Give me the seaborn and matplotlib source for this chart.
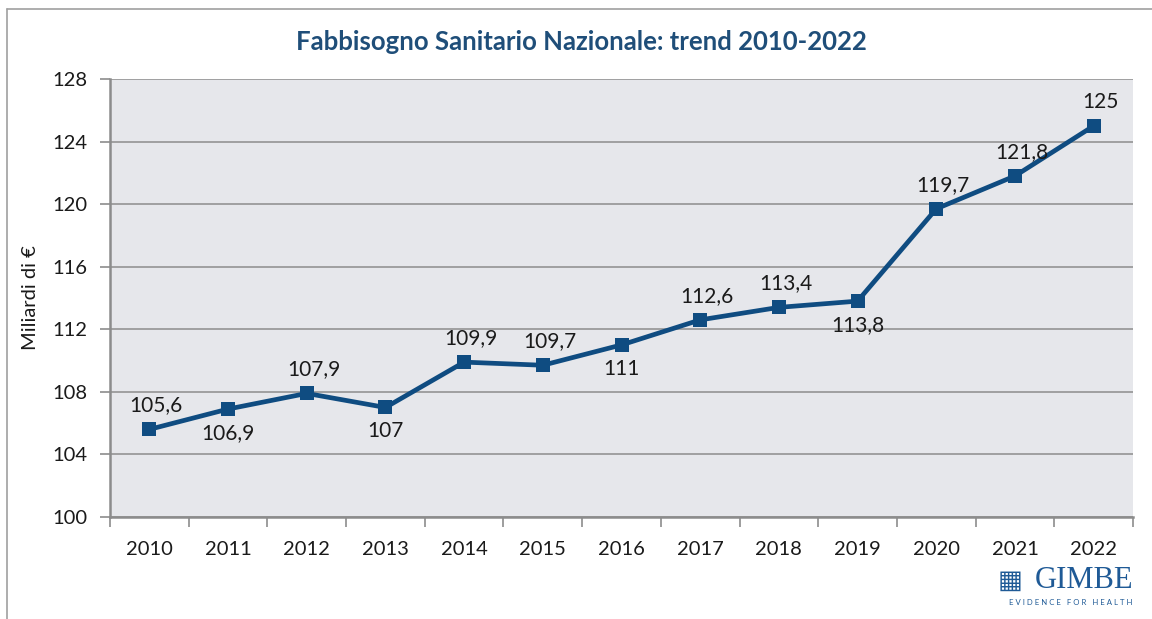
import pandas as pd
import matplotlib.pyplot as plt
import seaborn as sns
from matplotlib.ticker import FixedLocator

years = ['2010', '2011', '2012', '2013', '2014', '2015', '2016',
         '2017', '2018', '2019', '2020', '2021', '2022']
fsn = [105.6, 106.9, 107.9, 107.0, 109.9, 109.7, 111.0,
       112.6, 113.4, 113.8, 119.7, 121.8, 125.0]
labels = ['105,6', '106,9', '107,9', '107', '109,9', '109,7', '111',
          '112,6', '113,4', '113,8', '119,7', '121,8', '125']
# posizione etichetta: sopra (1) o sotto (-1) il punto
label_side = [1, -1, 1, -1, 1, 1, -1, 1, 1, -1, 1, 1, 1]
y_ticks = [100, 104, 108, 112, 116, 120, 124, 128]

df = pd.DataFrame({'Anno': years, 'FSN': fsn})

sns.set_theme(style='white')
plt.rcParams['font.family'] = ['Lato', 'DejaVu Sans']

blue = '#0f4c81'
grid_col = '#8c8c8c'
txt_col = '#1a1a1a'

fig = plt.figure(figsize=(11.52, 6.19), dpi=100)
ax = fig.add_axes([0.0955, 0.1648, 0.888, 0.7076])
ax.set_facecolor('#e6e7eb')

sns.lineplot(data=df, x='Anno', y='FSN', color=blue, linewidth=3.4,
             marker='s', markersize=10, markeredgewidth=0, sort=False, ax=ax)

for i, (v, lab, side) in enumerate(zip(fsn, labels, label_side)):
    ax.annotate(lab, (i, v), xytext=(5 if side > 0 else 0, 10 * side),
                textcoords='offset points', ha='center',
                va='bottom' if side > 0 else 'top', fontsize=15, color=txt_col)

ax.set_xlim(-0.5, len(years) - 0.5)
ax.set_ylim(100, 128)
ax.set_yticks(y_ticks)
ax.yaxis.grid(True, color=grid_col, linewidth=1.1)
ax.xaxis.grid(False)
ax.set_axisbelow(True)

ax.xaxis.set_minor_locator(FixedLocator([i - 0.5 for i in range(len(years) + 1)]))
ax.tick_params(axis='x', which='major', length=0, pad=17, labelsize=14.5, labelcolor=txt_col)
ax.tick_params(axis='x', which='minor', bottom=True, length=7, width=1.2, color=grid_col)
ax.tick_params(axis='y', left=True, length=7, width=1.2, color=grid_col,
               pad=9, labelsize=14.5, labelcolor=txt_col)

for s in ['top', 'right']:
    ax.spines[s].set_visible(False)
for s in ['left', 'bottom']:
    ax.spines[s].set_color(grid_col)
    ax.spines[s].set_linewidth(1.8)

ax.set_xlabel('')
ax.set_ylabel('Miliardi di €', fontsize=14.5, color=txt_col, labelpad=10)

fig.text(0.505, 0.932, 'Fabbisogno Sanitario Nazionale: trend 2010-2022',
         ha='center', va='center', fontsize=18.5, fontweight='bold', color='#1f4e79')

# cornice esterna
fig.add_artist(plt.Line2D([0.006, 1.0], [0.985, 0.985], color='#a0a0a0', linewidth=1.2))
fig.add_artist(plt.Line2D([0.006, 0.006], [0.0, 0.985], color='#a0a0a0', linewidth=1.2))

# logo GIMBE
fig.text(0.866, 0.05, '▦', ha='left', va='baseline', fontsize=19, color='#1f5a96',
         family=['DejaVu Sans'])
fig.text(0.984, 0.05, 'GIMBE', ha='right', va='baseline', fontsize=22,
         color='#1f5a96', family=['Liberation Serif', 'DejaVu Serif'])
fig.text(0.983, 0.022, 'E V I D E N C E   F O R   H E A L T H', ha='right', va='baseline',
         fontsize=5.6, color='#1f5a96')

fig.savefig('out.png', dpi=100)
